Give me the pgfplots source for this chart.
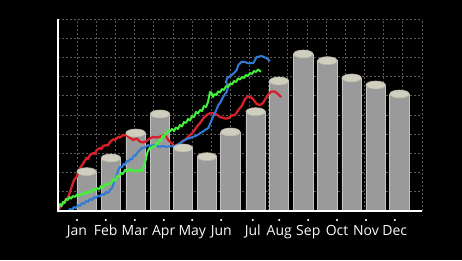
\documentclass[border=0pt]{standalone}
\usepackage{pgfplots}
\pgfplotsset{compat=1.18}
\usepackage{fontspec}
\setmainfont{Open Sans}
\definecolor{barbody}{HTML}{9A9A9A}
\definecolor{baredge}{HTML}{C4C4C4}
\definecolor{topfill}{HTML}{CFCEBF}
\definecolor{topdraw}{HTML}{B8B7A8}
\definecolor{gridc}{HTML}{5A5A5A}
\definecolor{lred}{HTML}{D8202A}
\definecolor{lgreen}{HTML}{44F03C}
\definecolor{lblue}{HTML}{2F7BD8}
\pgfdeclareplotmark{cyltop}{\pgfpathellipse{\pgfpointorigin}{\pgfqpoint{9.75pt}{0pt}}{\pgfqpoint{0pt}{4pt}}\pgfusepathqfillstroke}
\begin{document}
\begin{tikzpicture}
\fill[black] (0,0) rectangle (462pt,260pt);
\begin{axis}[
  at={(58pt,49pt)}, anchor=south west,
  scale only axis, width=364pt, height=192pt,
  xmin=58, xmax=422, ymin=0, ymax=192,
  clip=false,
  axis on top=false,
  axis line style={draw=none},
  major tick length=0pt, minor tick length=0pt,
  xtick={77,105.7,134.7,163.7,192.3,221.3,252.7,279.3,308.3,337,366,394.7},
  xticklabels={Jan,Feb,Mar,Apr,May,Jun,Jul,Aug,Sep,Oct,Nov,Dec},
  xticklabel style={anchor=base, yshift=-24pt, font=\fontsize{14}{14}\selectfont, text=white!95!gray, inner sep=0pt},
  ytick={0,19.2,38.4,57.6,76.8,96,115.2,134.4,153.6,172.8,192},
  yticklabels={},
  minor xtick={58,77.16,96.32,115.47,134.63,153.79,172.95,192.11,211.26,230.42,249.58,268.74,287.89,307.05,326.21,345.37,364.53,383.68,402.84,422},
  minor grid style={gridc, dash pattern=on 2pt off 2pt, line width=0.9pt},
  major grid style={gridc, dash pattern=on 2pt off 2pt, line width=0.9pt},
  xminorgrids, ymajorgrids,
]
% cylinder bodies
\addplot[ybar, bar width=19.5pt, fill=barbody, draw=baredge, line width=0.9pt] coordinates {
(86.7,39.3) (111,53) (135.7,78) (160,97) (183,63) (207,54.3) (230.5,79)
(255.7,99.3) (279,130) (303.3,157) (327.5,150.3) (351.7,133) (375.7,126) (399.5,117)};
% cylinder tops
\addplot[only marks, mark=cyltop, mark options={fill=topfill, draw=topdraw, line width=0.6pt}] coordinates {
(86.7,39.3) (111,53) (135.7,78) (160,97) (183,63) (207,54.3) (230.5,79)
(255.7,99.3) (279,130) (303.3,157) (327.5,150.3) (351.7,133) (375.7,126) (399.5,117)};
% red line
\addplot[lred, line width=2.3pt, line join=round] coordinates {
(58.3,1) (62,6) (66,11) (68.3,14.3) (71.7,24.3) (74,31) (76.7,34.3) (80,43) (83.3,47.7)
(86.5,53) (88,52) (90,56) (93.3,58) (95,57) (96.7,61) (100,63) (101.5,62) (103,65) (106.7,66) (108,65.5) (110,69) (113.3,71.7)
(115,71) (118.3,74) (120,73.5) (123.3,76) (126.7,75.5) (130,73) (133.3,71) (136.7,72.7) (140,69.3) (143.3,68.5)
(146.7,70) (150,72.7) (153,74) (156.7,73.5) (160,74.3) (165,76) (168.3,71) (171.7,67.7)
(175,64.3) (178.3,66) (181.7,69.3) (185,71) (190,76) (193.3,79) (196.7,84) (200,88)
(203.3,92.7) (206.7,96) (210,97.7) (215,97.7) (220,94) (225,92.5) (228.3,92.7) (231.7,95.5)
(235,96) (238.3,101) (241.7,105) (245,112) (248,114.5) (250,114.3) (253,112) (256.7,107)
(260,106) (263,108) (266,113) (269.3,118) (272,119.5) (275,119.3) (278,117) (281,114)};
% blue line
\addplot[lblue, line width=2pt, line join=round] coordinates {
(68.3,0) (70,2) (72,1) (74,4) (76,3) (78,6) (80,5) (82,8) (84,7) (86,10) (88,9) (90,12)
(92,11) (94,14) (96,13) (98,15.5) (100,14.5) (102,17) (104,16) (106,19) (108,18) (110,21)
(112,23) (113.5,27) (115,31) (116.7,36) (118.3,41) (120,44.3) (122,43.5) (123.5,47) (125,46)
(126.7,50) (128.5,49.5) (130,52) (132,51.5) (133.5,55) (135.5,55.5) (137,58) (139,60)
(141.7,62.7) (145,63.5) (148,66) (150,65) (153,66) (156,65) (160,64.3) (163,65) (166.7,64)
(170,65) (173.3,64.5) (176.7,66) (180,67.7) (183,70) (186.7,72) (190,73) (193.3,74.3)
(196.7,75.5) (200,77.7) (203,79.5) (205,81) (208.3,83)
(210,87) (213.3,95) (215,98) (218.3,106) (220,108) (223.3,114.3) (226.7,119.3) (228.3,125)
(226,129) (227,132.7) (231.7,136) (234,138) (236.7,141) (238.3,146) (241.7,149.3) (245,149)
(248.3,147.7) (253.3,148) (256.7,154) (261.7,155) (266.7,152.7) (270,150)};
% green line
\addplot[lgreen, line width=2pt, line join=round] coordinates {
(58.3,2) (60,7) (61.5,5) (63,9) (64.5,8) (66,12) (68,11) (69.5,14) (71,12.5) (73,15) (75,14)
(77,16.5) (79,15) (81,17.5) (83,16) (85,19) (87,17.5) (89,20) (91,18.5) (93,22) (95,20.5)
(97,23) (99,21.5) (101,25) (103,23) (105,27) (107,25.5) (109,28) (111,27) (113,32) (115,30)
(117,35) (119,34) (121,38) (123,37) (125,41) (127,39.5) (129,42) (131,40) (133,41.5) (135,39)
(137,41) (139,39.5) (141,41.5) (142.5,40) (144,46) (145.5,50) (146.7,56) (148.3,61) (150,63.5)
(151.5,62.5) (153,65) (155,64) (156.7,68) (158,67) (159.5,71) (161,70) (162.5,75) (164,74)
(165.5,78) (167,77) (168.5,81) (170,79.5) (172,82) (174,80) (176,83.5) (178,82) (180,86)
(182,84.5) (184,89) (186,88) (188,92) (190,90.5) (192,95) (194,94) (196,99) (198,97.5)
(200,101) (202,100) (204,105) (206,104) (208,109) (209,114) (210,119) (211.5,118) (213,114)
(214.5,117) (216.5,116) (218,119.5) (220,118.5) (222,122) (224,121) (226,125) (228,124)
(230,127.5) (232,126.5) (234,130) (236,129) (238,132.5) (240,131.5) (242,134) (244,133)
(246,136) (248,135) (250,138) (252,137) (254,140) (256,139) (258,141.5) (261,139.3)};
% tick dots
\addplot[only marks, mark=*, mark size=0.9pt, white] coordinates {
(77,-9) (105.7,-9) (134.7,-9) (163.7,-9) (192.3,-9) (221.3,-9) (252.7,-9) (279.3,-9)
(308.3,-9) (337,-9) (366,-9) (394.7,-9)};
% axis lines
\draw[white, line width=1.8pt] (axis cs:58,192) -- (axis cs:58,0) -- (axis cs:422,0);
\end{axis}
\pgfresetboundingbox
\path (0,0) rectangle (462pt,260pt);
\end{tikzpicture}
\end{document}
